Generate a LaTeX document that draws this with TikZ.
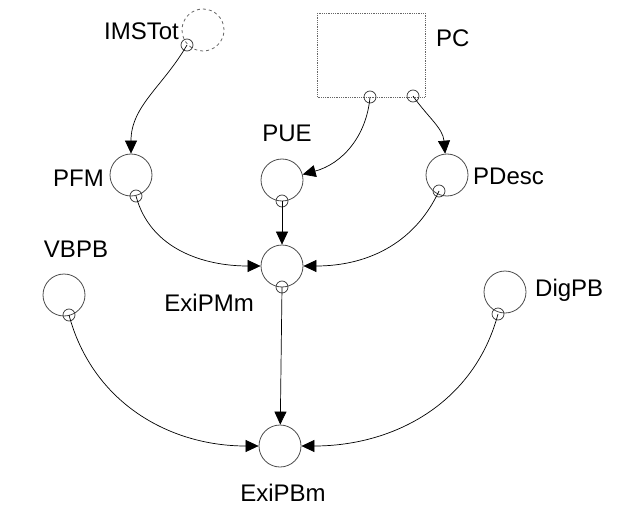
\documentclass[tikz,border=0pt]{standalone}
\usepackage{fontspec}
\setmainfont{Liberation Sans}
\usetikzlibrary{arrows.meta}
\tikzset{
  var/.style={circle,draw=black!70,line width=0.8pt,minimum size=42pt,inner sep=0pt},
  port/.style={circle,draw=black!80,line width=0.7pt,minimum size=12pt,inner sep=0pt},
  lbl/.style={font=\fontsize{24}{28}\selectfont,inner sep=0pt},
  flow/.style={line width=0.7pt,-{Triangle[length=13pt,width=12pt]}}
}
\begin{document}
\begin{tikzpicture}[x=1pt,y=-1pt]
        \useasboundingbox (0,0) rectangle (618,508);
        % sources
        \node[var,draw=black!60,dashed] at(203, 30) (ims) {};
        \draw[black!60,densely dotted,line width=0.8pt] (317,13) rectangle (425,97);
        \node[var] at(131, 175) (pfm) {};
        \node[var] at(282, 180) (pue) {};
        \node[var] at(447, 175) (pdesc) {};
        \node[var] at(282, 266) (exipmm) {};
        \node[var] at(64, 295) (vbpb) {};
        \node[var] at(505, 292) (digpb) {};
        \node[var] at(280, 446) (exipbm) {};
        % output ports
        \node[port] at(187, 45) (imso) {};
        \node[port] at(370, 97) (pco1) {};
        \node[port] at(413, 96) (pco2) {};
        \node[port] at(136, 196) (pfmo) {};
        \node[port] at(282, 201) (pueo) {};
        \node[port] at(439, 191) (pdesco) {};
        \node[port] at(282, 287) (exipmmo) {};
        \node[port] at(69, 315) (vbpbo) {};
        \node[port] at(498, 314) (digpbo) {};
        % labels
        \node[lbl,anchor=east] at(179, 31) (l-ims) {IMSTot};
        \node[lbl,anchor=west] at(436, 38) (l-pc) {PC};
        \node[lbl,anchor=east] at(104, 178) (l-pfm) {PFM};
        \node[lbl] at(287, 133) (l-pue) {PUE};
        \node[lbl,anchor=west] at(473, 176) (l-pdesc) {PDesc};
        \node[lbl] at(76, 249) (l-vbpb) {VBPB};
        \node[lbl,anchor=west] at(535, 290) (l-digpb) {DigPB};
        \node[lbl,anchor=east] at(254, 303) (l-exipmm) {ExiPMm};
        \node[lbl] at(283, 493) (l-exipbm) {ExiPBm};
        % flows
        \draw[flow] (imso.center)   to[out=240,in=90]  (pfm);
        \draw[flow] (pco1.center)   to[out=265,in=15]  (pue);
        \draw[flow] (pco2.center)   to[out=-55,in=95]  (pdesc);
        \draw[flow] (pfmo.center)   to[out=-75,in=180] (exipmm);
        \draw[flow] (pueo.center)   --                 (exipmm);
        \draw[flow] (pdesco.center) to[out=-115,in=0]  (exipmm);
        \draw[flow] (exipmmo.center) --                (exipbm);
        \draw[flow] (vbpbo.center)  to[out=-75,in=180] (exipbm);
        \draw[flow] (digpbo.center) to[out=-105,in=0]  (exipbm);
    \end{tikzpicture}
\end{document}
